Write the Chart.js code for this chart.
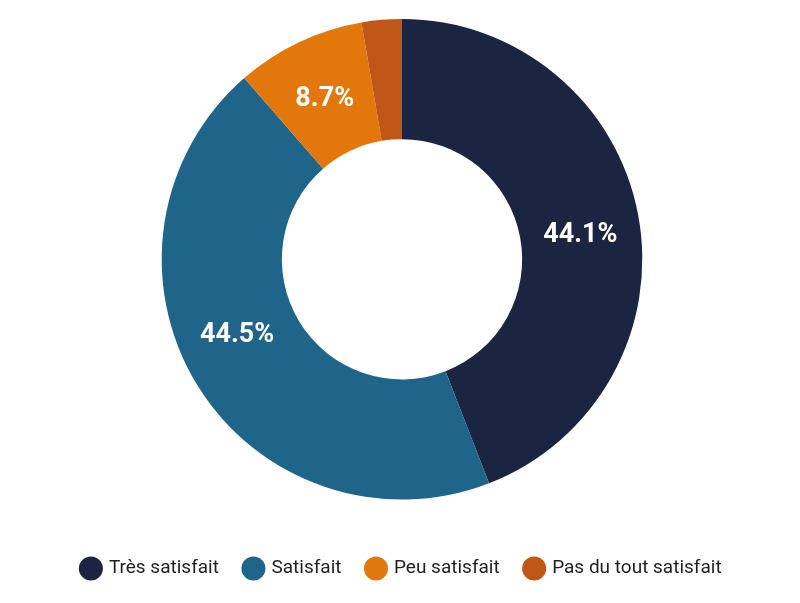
<!DOCTYPE html>
<html>
<head>
<meta charset="utf-8">
<script src="https://cdn.jsdelivr.net/npm/chart.js@4/dist/chart.umd.min.js"></script>
<style>
  html, body { margin: 0; padding: 0; background: #ffffff; }
  #wrap { width: 800px; height: 603px; }
</style>
</head>
<body>
<div id="wrap"><canvas id="c"></canvas></div>
<script>
const categories = ['Très satisfait', 'Satisfait', 'Peu satisfait', 'Pas du tout satisfait'];
const values = [44.1, 44.5, 8.7, 2.7];
const valueLabels = ['44.1%', '44.5%', '8.7%', ''];
const colors = ['#1b2542', '#1e6589', '#e2780b', '#c05618'];

const sliceLabels = {
  id: 'sliceLabels',
  afterDatasetsDraw(chart, args, opts) {
    const ctx = chart.ctx;
    const meta = chart.getDatasetMeta(0);
    const size = 27;
    ctx.save();
    ctx.font = 'bold ' + size + 'px Roboto';
    ctx.fillStyle = '#ffffff';
    ctx.textAlign = 'center';
    ctx.textBaseline = 'alphabetic';
    meta.data.forEach((arc, i) => {
      const txt = valueLabels[i];
      if (!txt) return;
      const p = arc.getProps(['x', 'y', 'startAngle', 'endAngle', 'innerRadius', 'outerRadius'], true);
      const shift = (opts.angleShift[i] || 0) * Math.PI / 180;
      const a = (p.startAngle + p.endAngle) / 2 + shift;
      const r = (p.innerRadius + p.outerRadius) / 2;
      ctx.fillText(txt, p.x + Math.cos(a) * r, p.y + Math.sin(a) * r + size * 0.355);
    });
    ctx.restore();
  }
};

new Chart(document.getElementById('c'), {
  type: 'doughnut',
  data: {
    labels: categories,
    datasets: [{
      data: values,
      backgroundColor: colors,
      borderWidth: 0,
      hoverOffset: 0
    }]
  },
  options: {
    responsive: true,
    maintainAspectRatio: false,
    animation: false,
    cutout: '50%',
    layout: { padding: { top: 19, left: 4, bottom: 15 } },
    plugins: {
      tooltip: { enabled: false },
      sliceLabels: { angleShift: [2.2, 7.3, 0, 0] },
      legend: {
        position: 'bottom',
        title: { display: true, text: '', padding: { top: 0, bottom: 19 }, font: { size: 12 } },
        labels: {
          usePointStyle: true,
          pointStyle: 'circle',
          boxWidth: 17,
          boxHeight: 17,
          padding: 26,
          color: '#1f1f1f',
          font: { family: 'Roboto', size: 19 }
        }
      }
    }
  },
  plugins: [sliceLabels]
});
</script>
</body>
</html>
